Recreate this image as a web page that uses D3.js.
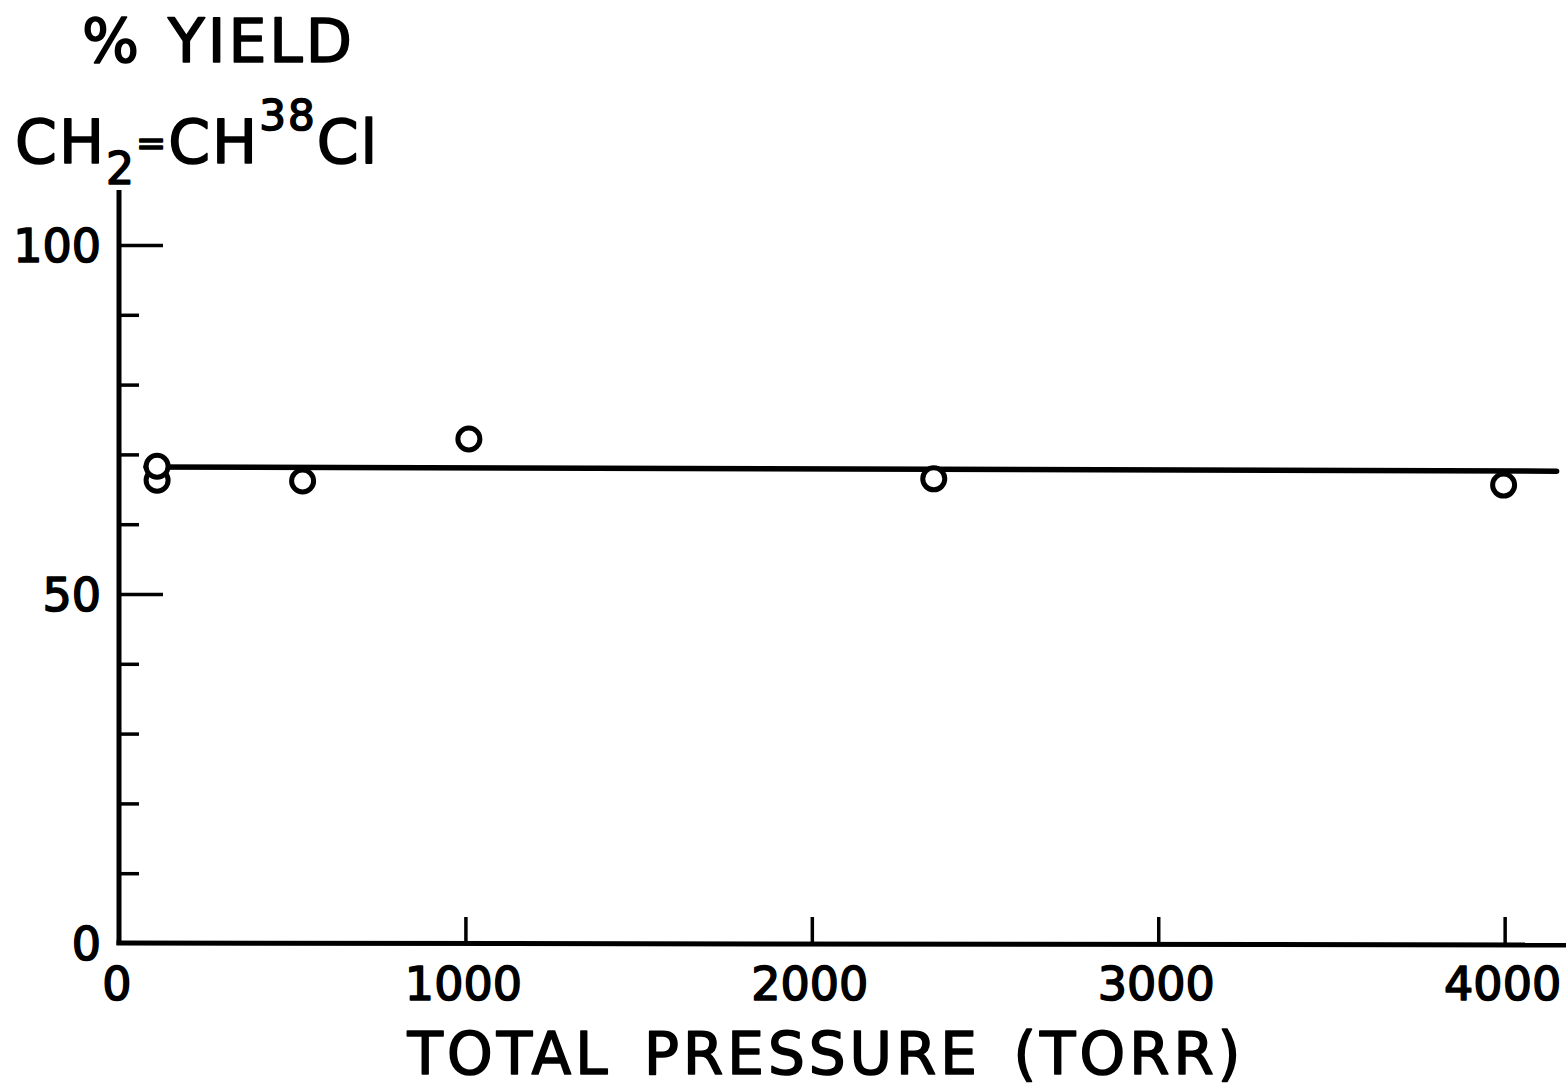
<!DOCTYPE html>
<html>
<head>
<meta charset="utf-8">
<script src="https://cdn.jsdelivr.net/npm/d3@7"></script>
<style>
  html, body { margin: 0; padding: 0; background: #fff; }
  svg { display: block; }
  text { font-family: "DejaVu Sans", sans-serif; fill: #000; stroke: #000; stroke-width: 1.6px; stroke-linejoin: round; }
</style>
</head>
<body>
<svg id="chart" width="1566" height="1091"></svg>
<script>
// Yield of CH2=CH38Cl versus total pressure
const pressure = [110, 110, 530, 1010, 2352, 3997];   // torr
const yieldPct = [68.3, 66.3, 66.2, 72.2, 66.5, 65.6]; // %
// Drawn average line (endpoints)
const fitPressure = [78, 4150];
const fitYield = [68.2, 67.6];
// Axis ticks
const yMajorTicks = [0, 50, 100];
const yMinorTicks = [10, 20, 30, 40, 60, 70, 80, 90];
const xTicks = [0, 1000, 2000, 3000, 4000];

const svg = d3.select("#chart");

const x = d3.scaleLinear().domain([0, 4180]).range([119, 1567]);
const y = d3.scaleLinear().domain([0, 100]).range([943, 245]);

const ink = "#000";

// Y axis line
svg.append("line")
  .attr("x1", x(0)).attr("x2", x(0))
  .attr("y1", 190).attr("y2", y(0) + 2)
  .attr("stroke", ink).attr("stroke-width", 5);

// X axis line
svg.append("line")
  .attr("x1", x(0) - 2.5).attr("x2", 1566)
  .attr("y1", y(0)).attr("y2", y(0) + 2)
  .attr("stroke", ink).attr("stroke-width", 5);

// Y ticks pointing inward (to the right)
const yAxis = d3.axisLeft(y)
  .tickValues(yMajorTicks.filter(d => d > 0))
  .tickSize(-44)
  .tickFormat("");
const gyMaj = svg.append("g").attr("transform", `translate(${x(0)},0)`).call(yAxis);
gyMaj.select(".domain").remove();
gyMaj.selectAll(".tick line").attr("stroke", ink).attr("stroke-width", 3.5);

const yAxisMinor = d3.axisLeft(y)
  .tickValues(yMinorTicks)
  .tickSize(-20)
  .tickFormat("");
const gyMin = svg.append("g").attr("transform", `translate(${x(0)},0)`).call(yAxisMinor);
gyMin.select(".domain").remove();
gyMin.selectAll(".tick line").attr("stroke", ink).attr("stroke-width", 3.5);

// Y tick labels
svg.append("g").selectAll("text")
  .data(yMajorTicks)
  .join("text")
  .attr("x", 101)
  .attr("y", d => y(d))
  .attr("dy", "0.36em")
  .attr("text-anchor", "end")
  .attr("font-size", 46)
  .text(d => d);

// X ticks pointing inward (upward)
const xAxis = d3.axisBottom(x)
  .tickValues(xTicks.filter(d => d > 0))
  .tickSize(-26)
  .tickFormat("");
const gx = svg.append("g").attr("transform", `translate(0,${y(0)})`).call(xAxis);
gx.select(".domain").remove();
gx.selectAll(".tick line").attr("stroke", ink).attr("stroke-width", 3.5);

// X tick labels
svg.append("g").selectAll("text")
  .data(xTicks)
  .join("text")
  .attr("x", d => x(d) - 2)
  .attr("y", 1000)
  .attr("text-anchor", "middle")
  .attr("font-size", 46)
  .text(d => d);

// X axis title
svg.append("text")
  .attr("x", 826)
  .attr("y", 1074)
  .attr("text-anchor", "middle")
  .attr("font-size", 58)
  .attr("letter-spacing", 4)
  .attr("word-spacing", 10)
  .text("TOTAL PRESSURE (TORR)");

// Y axis title
svg.append("text")
  .attr("x", 82)
  .attr("y", 62)
  .attr("font-size", 60)
  .attr("letter-spacing", 3)
  .attr("word-spacing", 4)
  .text("% YIELD");

const formula = svg.append("text")
  .attr("x", 15)
  .attr("y", 163)
  .attr("font-size", 60)
  .attr("letter-spacing", 2);
formula.append("tspan").text("CH");
formula.append("tspan").attr("font-size", 44).attr("dy", 21).text("2");
formula.append("tspan").attr("font-size", 36).attr("dy", -29).text("=");
formula.append("tspan").attr("dy", 8).text("CH");
formula.append("tspan").attr("font-size", 42).attr("dy", -33).text("38");
formula.append("tspan").attr("dy", 33).text("Cl");

// Average line
svg.append("line")
  .attr("x1", x(fitPressure[0])).attr("y1", y(fitYield[0]))
  .attr("x2", x(fitPressure[1])).attr("y2", y(fitYield[1]))
  .attr("stroke", ink).attr("stroke-width", 5.5)
  .attr("stroke-linecap", "round");

// Data points: open circles, lower ones drawn first
const pts = pressure.map((p, i) => ({p, v: yieldPct[i]}))
  .sort((a, b) => a.v - b.v);
svg.append("g").selectAll("circle")
  .data(pts)
  .join("circle")
  .attr("cx", d => x(d.p))
  .attr("cy", d => y(d.v))
  .attr("r", 11)
  .attr("fill", "#fff")
  .attr("stroke", ink)
  .attr("stroke-width", 5);
</script>
</body>
</html>
